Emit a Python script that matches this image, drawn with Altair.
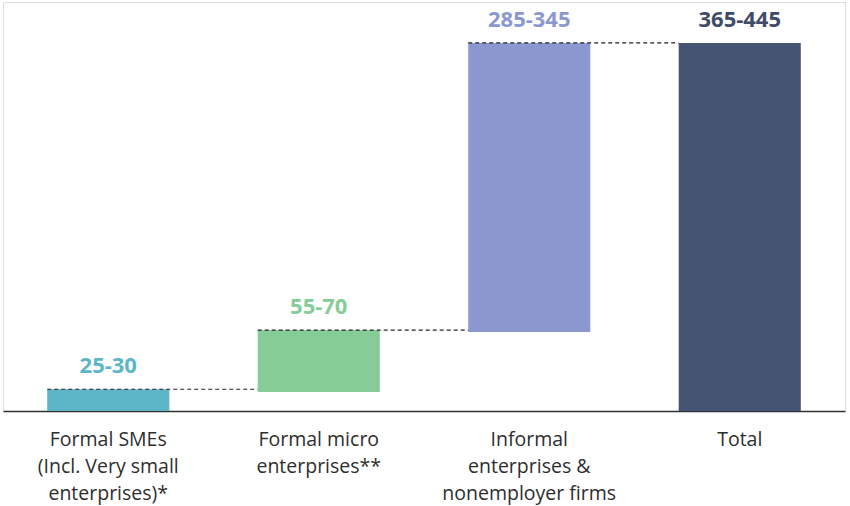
import altair as alt
import pandas as pd

categories = ["Formal SMEs|(Incl. Very small|enterprises)*",
              "Formal micro|enterprises**",
              "Informal|enterprises &|nonemployer firms",
              "Total"]
bar_start = [0, 21, 87, 0]
bar_end = [24, 89, 405, 405]
value_labels = ["25-30", "55-70", "285-345", "365-445"]
bar_colors = ["#5db6c8", "#86cc96", "#8b98d0", "#465474"]
label_colors = ["#5db6c8", "#86cc96", "#8b98d0", "#3f4b69"]

df = pd.DataFrame({
    "cat": categories,
    "start": bar_start,
    "end": bar_end,
    "label": value_labels,
    "color": bar_colors,
    "lcolor": label_colors,
})

conn = pd.DataFrame({
    "from": categories[:-1],
    "to": categories[1:],
    "y": bar_end[:-1],
})

x_scale = alt.Scale(domain=categories, paddingInner=0.42, paddingOuter=0.21)
y_scale = alt.Scale(domain=[0, 450], nice=False, zero=True)

xaxis = alt.Axis(
    title=None, labelAngle=0, ticks=False, domain=True,
    domainColor="#333333", domainWidth=1.5,
    labelExpr="split(datum.label, '|')",
    labelFont="Open Sans", labelFontSize=19.5, labelColor="#2e2e2e",
    labelLineHeight=27, labelPadding=19, labelLimit=300,
)

bars = alt.Chart(df).mark_bar().encode(
    x=alt.X("cat:N", scale=x_scale, sort=None, axis=xaxis),
    y=alt.Y("start:Q", scale=y_scale, axis=None),
    y2="end:Q",
    color=alt.Color("color:N", scale=None),
)

texts = alt.Chart(df).mark_text(
    font="Open Sans", fontSize=22, fontWeight="bold", baseline="alphabetic", dy=-16
).encode(
    x=alt.X("cat:N", scale=x_scale, sort=None),
    y=alt.Y("end:Q", scale=y_scale),
    text="label:N",
    color=alt.Color("lcolor:N", scale=None),
)

rules = alt.Chart(conn).mark_rule(
    color="#222222", strokeDash=[4, 3], strokeWidth=1.1
).encode(
    x=alt.X("from:N", scale=x_scale, sort=None, bandPosition=0),
    x2=alt.X2("to:N", bandPosition=0),
    y=alt.Y("y:Q", scale=y_scale),
)

chart = alt.layer(bars, rules, texts).properties(
    width=842, height=409,
    autosize=alt.AutoSizeParams(type="none"),
    padding={"left": 3, "top": 2, "right": 5, "bottom": 95},
).configure_view(stroke=None).configure(background="white")

chart.save("out.html", embed_options={"renderer": "svg", "actions": False})
